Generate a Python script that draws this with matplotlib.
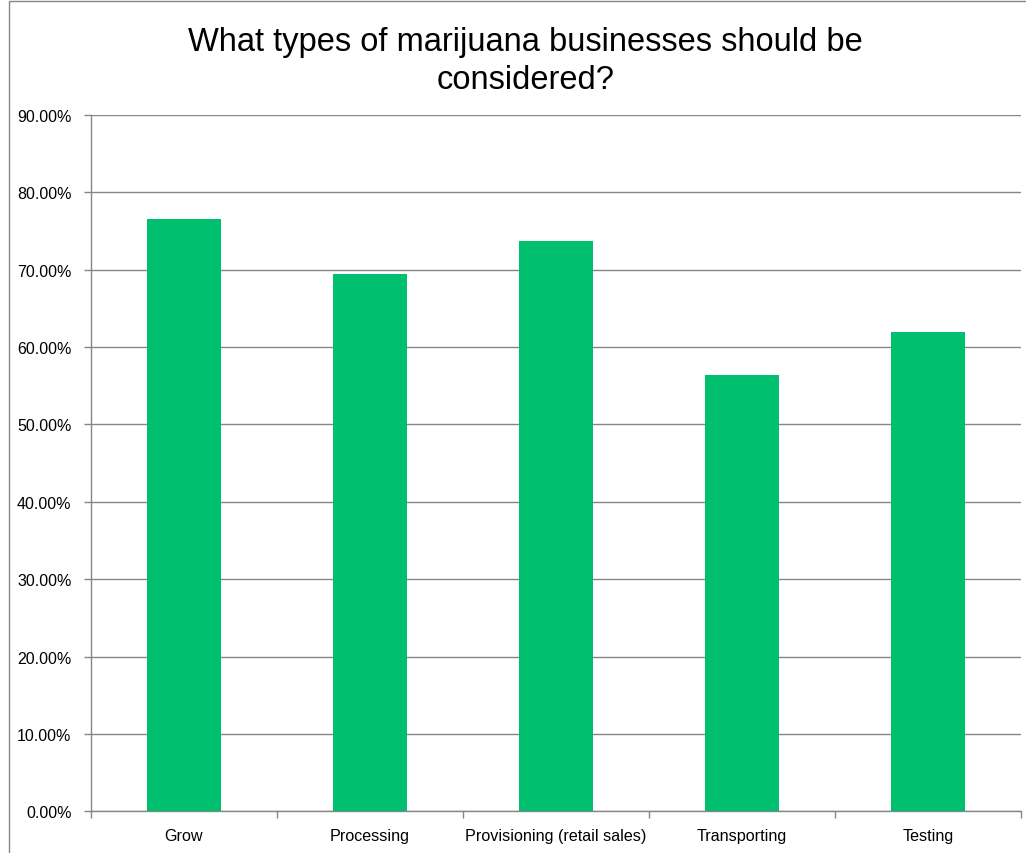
import matplotlib.pyplot as plt
from matplotlib.patches import Rectangle
from matplotlib.ticker import PercentFormatter, MultipleLocator, FixedLocator

categories = ['Grow', 'Processing', 'Provisioning (retail sales)', 'Transporting', 'Testing']
shares = [76.5, 69.4, 73.7, 56.4, 61.9]  # percent of respondents

plt.rcParams['font.family'] = ['Liberation Sans', 'DejaVu Sans']

fig = plt.figure(figsize=(10.26, 8.54), dpi=100)
ax = fig.add_axes([0.0887, 0.0488, 0.9063, 0.8157])

x = list(range(len(categories)))
ax.bar(x, shares, width=0.4, color='#00BF6F', zorder=3)

ax.set_xlim(-0.5, len(categories) - 0.5)
ax.set_ylim(0, 90)
ax.yaxis.set_major_locator(MultipleLocator(10))
ax.yaxis.set_major_formatter(PercentFormatter(decimals=2))
ax.grid(axis='y', color='#868686', linewidth=1, zorder=0)

# category labels centred on bars, tick marks between categories
ax.set_xticks(x)
ax.set_xticklabels(categories, fontsize=11.6)
ax.tick_params(axis='x', length=0, pad=12)
ax.xaxis.set_minor_locator(FixedLocator([i + 0.5 for i in range(-1, len(categories))]))
ax.tick_params(axis='x', which='minor', length=5, color='#868686', width=1)
ax.tick_params(axis='y', length=5, color='#868686', width=1, labelsize=11.5, pad=9)

for s in ['top', 'right']:
    ax.spines[s].set_visible(False)
for s in ['left', 'bottom']:
    ax.spines[s].set_color('#868686')
    ax.spines[s].set_linewidth(1)

fig.text(0.512, 0.928, 'What types of marijuana businesses should be\nconsidered?',
         ha='center', va='center', fontsize=23.5, linespacing=1.3)

# chart frame
fig.patches.append(Rectangle((0.009, -0.01), 1.0, 1.008, transform=fig.transFigure,
                             fill=False, edgecolor='#868686', linewidth=1))

fig.savefig('out.png', dpi=100)
